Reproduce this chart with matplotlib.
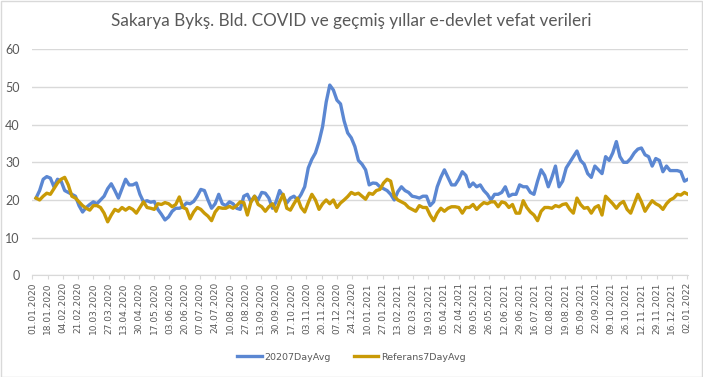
import numpy as np
import matplotlib.pyplot as plt
from matplotlib.patches import Rectangle

# 7-day averages, read every 4th day (index = days since 01.01.2020, no 29.02)
day_idx = np.arange(4, 733, 4)

avg_2020 = [
    20.5, 22.5, 25.5, 26.2, 25.8, 23.5, 25.5, 25.0, 22.5, 22.0, 21.5, 21.0,
    18.5, 16.8, 18.0, 18.8, 19.5, 19.0, 20.0, 21.0, 23.0, 24.3, 22.5, 20.5,
    23.0, 25.5, 24.0, 24.0, 24.5, 21.5, 19.5, 19.8, 19.4, 19.6, 17.5, 16.2,
    14.7, 15.5, 17.0, 17.8, 17.8, 18.2, 19.2, 19.0, 19.6, 21.0, 22.8, 22.5,
    20.0, 17.8, 19.0, 21.5, 19.0, 18.5, 19.5, 19.0, 17.8, 17.5, 21.0, 21.5,
    19.5, 21.0, 20.0, 22.0, 21.8, 20.5, 17.8, 19.5, 22.5, 21.0, 19.2, 20.5,
    21.0, 20.0, 21.5, 23.5, 28.5, 30.8, 32.5, 35.5, 39.5, 46.0, 50.5, 49.2,
    46.5, 45.5, 41.0, 37.8, 36.5, 34.2, 30.5, 29.5, 28.0, 24.0, 24.5, 24.4,
    23.5, 23.0, 22.5, 21.5, 20.0, 22.2, 23.5, 22.5, 22.0, 21.0, 20.8, 20.5,
    21.0, 21.0, 18.5, 19.5, 23.5, 26.0, 28.0, 26.0, 24.0, 24.0, 25.5, 27.5,
    26.5, 23.5, 24.5, 23.5, 24.0, 22.5, 21.5, 20.0, 21.5, 21.5, 22.0, 23.5,
    21.0, 21.5, 21.5, 24.0, 23.5, 23.5, 22.0, 21.5, 25.0, 28.0, 26.5, 23.5,
    26.0, 29.0, 23.5, 25.0, 28.5, 30.0, 31.5, 33.0, 30.5, 29.5, 27.0, 26.0,
    29.0, 28.0, 27.0, 31.5, 30.5, 32.5, 35.5, 31.5, 30.0, 30.0, 31.0, 32.5,
    33.5, 33.8, 32.0, 31.5, 29.0, 31.0, 30.5, 27.5, 29.0, 27.8, 27.8, 27.8,
    27.5, 25.0, 25.5,
]

avg_ref = [
    20.5, 20.0, 21.0, 21.8, 21.5, 23.0, 24.5, 25.5, 26.0, 24.0, 21.0, 20.5,
    19.5, 18.5, 17.8, 17.3, 18.5, 18.5, 18.0, 16.5, 14.2, 16.0, 17.5, 17.0,
    18.0, 17.3, 18.0, 17.5, 16.5, 18.0, 19.5, 18.0, 17.8, 17.5, 19.0, 18.8,
    19.3, 19.0, 18.2, 18.8, 20.8, 18.0, 17.6, 15.0, 16.8, 18.0, 17.5, 16.5,
    15.7, 14.5, 16.8, 18.0, 17.8, 17.8, 18.3, 17.8, 18.5, 19.5, 19.3, 16.0,
    19.5, 21.0, 18.8, 18.2, 17.0, 18.2, 19.0, 17.0, 19.5, 21.5, 17.8, 17.3,
    19.0, 20.5, 18.0, 16.8, 19.3, 21.5, 20.0, 17.5, 19.0, 20.0, 19.0, 20.0,
    18.0, 19.2, 20.0, 20.9, 22.0, 21.5, 21.8, 21.0, 20.2, 21.8, 21.5, 22.5,
    22.8, 24.5, 25.5, 25.0, 21.0, 20.0, 19.5, 19.0, 18.0, 17.5, 17.0, 18.5,
    18.0, 18.0, 16.0, 14.5, 16.5, 17.8, 17.0, 17.8, 18.2, 18.2, 18.0, 16.5,
    18.0, 18.0, 18.8, 17.5, 18.5, 19.3, 19.0, 19.5, 19.5, 18.2, 19.5, 19.2,
    18.0, 18.8, 16.5, 16.5, 19.8, 18.0, 16.8, 16.0, 14.5, 17.0, 18.0, 18.0,
    17.8, 18.5, 18.2, 18.8, 19.0, 17.5, 16.5, 20.5, 18.8, 17.8, 18.0, 16.5,
    18.0, 18.5, 16.0, 21.0, 20.0, 19.0, 17.8, 19.0, 19.6, 17.5, 16.5, 19.0,
    21.5, 19.5, 17.0, 18.5, 19.8, 19.0, 18.5, 17.5, 19.0, 20.0, 20.5, 21.5,
    21.3, 22.0, 21.5,
]

tick_labels = [
    '01.01.2020', '18.01.2020', '04.02.2020', '21.02.2020', '10.03.2020',
    '27.03.2020', '13.04.2020', '30.04.2020', '17.05.2020', '03.06.2020',
    '20.06.2020', '07.07.2020', '24.07.2020', '10.08.2020', '27.08.2020',
    '13.09.2020', '30.09.2020', '17.10.2020', '03.11.2020', '20.11.2020',
    '07.12.2020', '24.12.2020', '10.01.2021', '27.01.2021', '13.02.2021',
    '02.03.2021', '19.03.2021', '05.04.2021', '22.04.2021', '09.05.2021',
    '26.05.2021', '12.06.2021', '29.06.2021', '16.07.2021', '02.08.2021',
    '19.08.2021', '05.09.2021', '22.09.2021', '09.10.2021', '26.10.2021',
    '12.11.2021', '29.11.2021', '16.12.2021', '02.01.2022',
]
TICK_STEP = 17

BLUE, GOLD = '#5b87d2', '#c99a06'
GRID, TEXT = '#d9d9d9', '#595959'

fig = plt.figure(figsize=(7.03, 3.77), dpi=100)
ax = fig.add_axes([32 / 703, 1 - 275.3 / 377, 656 / 703, 226 / 377])

ax.plot(day_idx, avg_2020, color=BLUE, lw=2.4, label='20207DayAvg',
        solid_joinstyle='round')
ax.plot(day_idx, avg_ref, color=GOLD, lw=2.4, label='Referans7DayAvg',
        solid_joinstyle='round')

ax.set_xlim(-0.5, 732)
ax.set_ylim(0, 60)
ax.set_yticks(range(0, 61, 10))
ax.set_xticks(np.arange(len(tick_labels)) * TICK_STEP)
ax.set_xticklabels(tick_labels, rotation=90, fontsize=6.5, color=TEXT,
                   family='DejaVu Sans')
ax.tick_params(axis='x', length=3, color=GRID, pad=2)
ax.tick_params(axis='y', length=0, labelsize=9, labelcolor=TEXT, pad=9)
for lab in ax.get_yticklabels():
    lab.set_family('Lato')

ax.grid(True, axis='y', color=GRID, lw=1)
ax.set_axisbelow(True)
for side in ('top', 'right', 'left'):
    ax.spines[side].set_visible(False)
ax.spines['bottom'].set_color(GRID)

fig.text(0.5, 1 - 21 / 377, 'Sakarya Bykş. Bld. COVID ve geçmiş yıllar e-devlet vefat verileri',
         ha='center', va='center', fontsize=12.3, color=TEXT, family='Lato')

fig.legend(loc='center', bbox_to_anchor=(0.5, 1 - 357 / 377), ncol=2,
           frameon=False, prop={'family': 'DejaVu Sans', 'size': 6.8},
           labelcolor=TEXT, handlelength=2.6, handletextpad=0.3, columnspacing=2.4)

fig.patches.append(Rectangle((0.5 / 703, 0.5 / 377), 1 - 1.5 / 703, 1 - 1.5 / 377,
                             transform=fig.transFigure, fill=False,
                             edgecolor=GRID, lw=1))

fig.savefig('out.png', dpi=100, facecolor='white')
